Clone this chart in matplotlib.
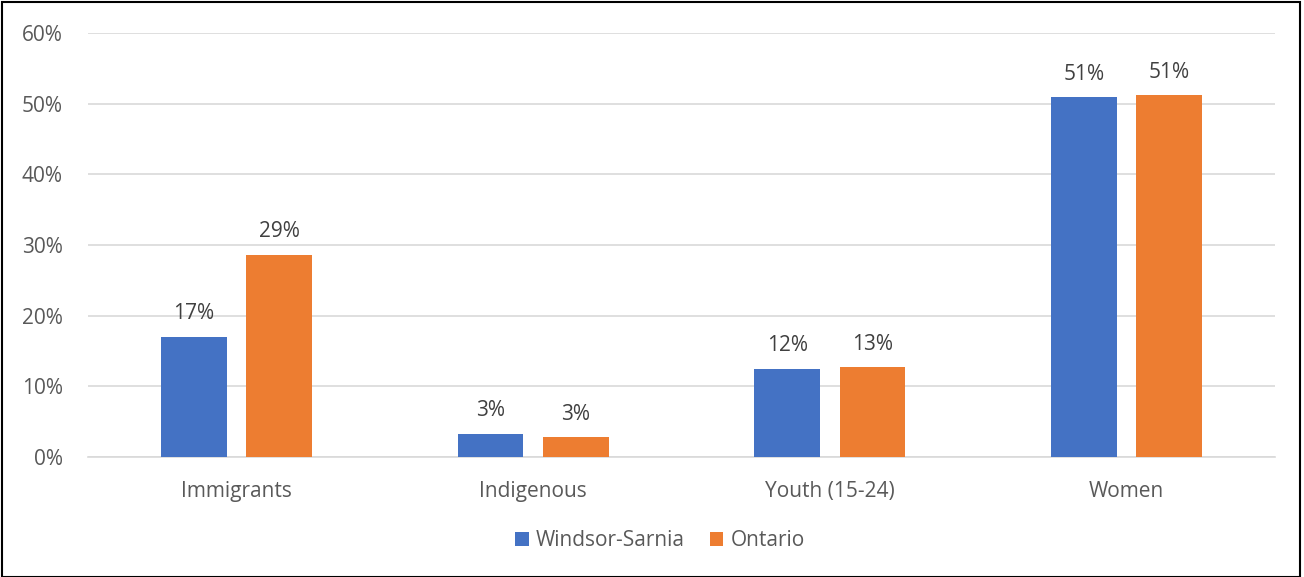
import matplotlib
matplotlib.use("Agg")
import matplotlib.pyplot as plt
import numpy as np
from matplotlib.patches import Rectangle

categories = ["Immigrants", "Indigenous", "Youth (15-24)", "Women"]
series_names = ["Windsor-Sarnia", "Ontario"]
windsor = [17.0, 3.3, 12.5, 50.9]
ontario = [28.6, 2.8, 12.7, 51.2]
windsor_labels = ["17%", "3%", "12%", "51%"]
ontario_labels = ["29%", "3%", "13%", "51%"]
yticks = [0, 10, 20, 30, 40, 50, 60]
ytick_labels = ["0%", "10%", "20%", "30%", "40%", "50%", "60%"]

plt.rcParams['font.family'] = ['Open Sans', 'DejaVu Sans']

fig = plt.figure(figsize=(13.04, 5.77), dpi=100)
ax = fig.add_axes([88/1304, 120/577, (1275-88)/1304, (457-33)/577])

x = np.arange(len(categories))
w = 0.222
off = 0.1435
colors = ["#4472C4", "#ED7D31"]
b1 = ax.bar(x - off, windsor, w, color=colors[0], label=series_names[0], zorder=3)
b2 = ax.bar(x + off, ontario, w, color=colors[1], label=series_names[1], zorder=3)

fs = 15
for bars, labs in ((b1, windsor_labels), (b2, ontario_labels)):
    for r, l in zip(bars, labs):
        ax.annotate(l, (r.get_x() + r.get_width()/2, r.get_height()),
                    xytext=(0, 9), textcoords="offset points",
                    ha="center", va="bottom", fontsize=fs, color="#404040")

ax.set_xlim(-0.5, len(categories) - 0.5)
ax.set_ylim(0, 60)
ax.set_yticks(yticks)
ax.set_yticklabels(ytick_labels)
ax.set_xticks(x)
ax.set_xticklabels(categories)
ax.tick_params(axis='both', length=0, labelsize=fs, colors="#595959")
ax.tick_params(axis='y', pad=18)
ax.tick_params(axis='x', pad=17)
ax.grid(axis='y', color="#D9D9D9", linewidth=1.2, zorder=0)
for s in ["top", "right", "left"]:
    ax.spines[s].set_visible(False)
ax.spines["bottom"].set_color("#D9D9D9")
ax.spines["bottom"].set_linewidth(1.2)

leg = fig.legend(handles=[b1, b2], labels=series_names, loc="center",
                 bbox_to_anchor=(660/1304, 1 - 541/577), ncol=2, frameon=False,
                 fontsize=fs, handlelength=0.65, handleheight=0.65,
                 handletextpad=0.35, columnspacing=1.2)
for t in leg.get_texts():
    t.set_color("#595959")

fig.patches.append(Rectangle((2/1304, 0), 1298/1304, 575/577, transform=fig.transFigure,
                             fill=False, edgecolor="black", linewidth=1.5))

fig.savefig("out.png", dpi=100)
